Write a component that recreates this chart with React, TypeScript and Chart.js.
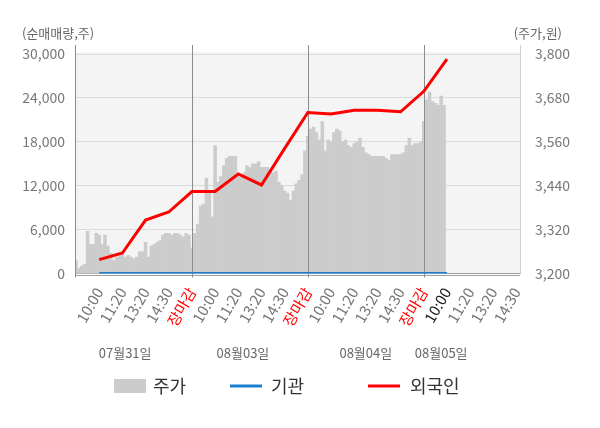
import { useEffect, useRef } from "react";
import Chart from "chart.js/auto";

const FONT = "'Noto Sans CJK KR', 'Noto Sans', sans-serif";

// x axis: one slot per time label (slot 1 = first 10:00)
const timeLabels = [
  "10:00", "11:20", "13:20", "14:30", "장마감",
  "10:00", "11:20", "13:20", "14:30", "장마감",
  "10:00", "11:20", "13:20", "14:30", "장마감",
  "10:00", "11:20", "13:20", "14:30",
];
const dayLabels = ["07월31일", "08월03일", "08월04일", "08월05일"];

// 외국인 / 기관 net volume, one value per slot starting at slot 1
const foreignNet = [
  1900, 2800, 7300, 8400, 11200, 11200, 13600, 12100, 17100, 22000, 21800,
  22300, 22300, 22100, 24900, 29300,
];
const institutionNet = [0, 0, 0, 0, 0, 0, 0, 0, 0, 0, 0, 0, 0, 0, 0, 0];

// 주가, 8 samples per slot starting at slot 0
const price = [
  3235, 3215, 3220, 3225, 3315, 3280, 3280, 3310,
  3305, 3280, 3305, 3275, 3255, 3235, 3245, 3255,
  3255, 3245, 3250, 3245, 3240, 3245, 3260, 3260,
  3285, 3245, 3275, 3280, 3285, 3290, 3305, 3310,
  3310, 3305, 3310, 3310, 3305, 3300, 3310, 3305,
  3270, 3310, 3335, 3385, 3390, 3460, 3425, 3355,
  3550, 3450, 3465, 3495, 3515, 3520, 3520, 3520,
  3465, 3465, 3475, 3495, 3490, 3500, 3500, 3505,
  3490, 3490, 3490, 3485, 3475, 3480, 3450, 3440,
  3425, 3420, 3400, 3425, 3445, 3455, 3470, 3535,
  3575, 3595, 3600, 3585, 3565, 3615, 3535, 3565,
  3560, 3585, 3595, 3590, 3560, 3565, 3550, 3545,
  3555, 3560, 3570, 3545, 3530, 3525, 3520, 3520,
  3520, 3520, 3520, 3515, 3510, 3525, 3525, 3525,
  3525, 3530, 3550, 3570, 3550, 3555, 3555, 3560,
  3615, 3675, 3695, 3670, 3665, 3660, 3685, 3660,
];

const dayStarts = [5, 10, 15];
const dayLabelSlots = [2.12, 7.2, 12.5, 15.75];

export default function App() {
  const canvasRef = useRef<HTMLCanvasElement | null>(null);

  useEffect(() => {
    if (!canvasRef.current) return;
    const ctx = canvasRef.current.getContext("2d");
    if (!ctx) return;

    const decor = {
      id: "decor",
      beforeDraw(chart: any) {
        const { ctx, chartArea: a } = chart;
        ctx.save();
        ctx.fillStyle = "#f4f4f4";
        ctx.fillRect(a.left, a.top - 2, a.right - a.left, a.bottom - a.top + 2);
        ctx.restore();
      },
      afterDatasetDraw(chart: any, args: any) {
        if (args.index !== 2) return;
        const { ctx, chartArea: a } = chart;
        const xs = chart.scales.x;
        ctx.save();
        ctx.strokeStyle = "#8c8c8c";
        ctx.lineWidth = 1;
        dayStarts.forEach((s) => {
          const px = Math.round(xs.getPixelForValue(s)) + 0.5;
          ctx.beginPath();
          ctx.moveTo(px, a.top - 9);
          ctx.lineTo(px, a.bottom + 4);
          ctx.stroke();
        });
        ctx.restore();
      },
      afterDraw(chart: any) {
        const { ctx, chartArea: a } = chart;
        const xs = chart.scales.x;
        ctx.save();
        // axis lines
        ctx.lineWidth = 1;
        ctx.strokeStyle = "#8c8c8c";
        ctx.beginPath();
        ctx.moveTo(Math.round(a.left) - 0.5, a.top - 9);
        ctx.lineTo(Math.round(a.left) - 0.5, a.bottom + 4);
        ctx.stroke();
        ctx.strokeStyle = "#d0d0d0";
        ctx.beginPath();
        ctx.moveTo(Math.round(a.right) + 0.5, a.top - 9);
        ctx.lineTo(Math.round(a.right) + 0.5, a.bottom);
        ctx.stroke();
        ctx.strokeStyle = "#a0a0a0";
        ctx.beginPath();
        ctx.moveTo(a.left, Math.round(a.bottom) + 1.5);
        ctx.lineTo(a.right, Math.round(a.bottom) + 1.5);
        ctx.stroke();

        // axis titles
        ctx.fillStyle = "#666";
        ctx.font = `13px ${FONT}`;
        ctx.textBaseline = "middle";
        ctx.textAlign = "left";
        ctx.fillText("(순매매량,주)", 22, 33);
        ctx.textAlign = "right";
        ctx.fillText("(주가,원)", 562, 33);

        // day labels
        ctx.textAlign = "center";
        dayLabels.forEach((d, i) => {
          ctx.fillText(d, xs.getPixelForValue(dayLabelSlots[i]), 353);
        });

        // legend
        const ly = 386;
        ctx.fillStyle = "#cccccc";
        ctx.fillRect(114, ly - 7, 32, 14);
        ctx.lineWidth = 3;
        ctx.strokeStyle = "#1a7fcf";
        ctx.beginPath();
        ctx.moveTo(230, ly);
        ctx.lineTo(262, ly);
        ctx.stroke();
        ctx.strokeStyle = "#ff0000";
        ctx.beginPath();
        ctx.moveTo(368, ly);
        ctx.lineTo(400, ly);
        ctx.stroke();
        ctx.fillStyle = "#333";
        ctx.font = `18px ${FONT}`;
        ctx.textAlign = "left";
        ctx.fillText("주가", 153, ly);
        ctx.fillText("기관", 271, ly);
        ctx.fillText("외국인", 410, ly);
        ctx.restore();
      },
    };

    const tickColor = (i: number) => {
      if (timeLabels[i] === "장마감") return "#ff0000";
      if (i === 15) return "#222";
      return "#777";
    };

    const chart = new Chart(ctx, {
      type: "bar",
      data: {
        datasets: [
          {
            type: "line",
            label: "외국인",
            data: foreignNet.map((v, i) => ({ x: i + 1, y: v })),
            yAxisID: "y",
            borderColor: "#ff0000",
            borderWidth: 3,
            pointRadius: 0,
            order: 0,
          },
          {
            type: "line",
            label: "기관",
            data: institutionNet.map((v, i) => ({ x: i + 1, y: v })),
            yAxisID: "y",
            borderColor: "#1a7fcf",
            borderWidth: 3,
            pointRadius: 0,
            order: 1,
          },
          {
            type: "bar",
            label: "주가",
            data: price.map((v, i) => ({ x: i / 8, y: v })),
            yAxisID: "y1",
            backgroundColor: "#cccccc",
            borderWidth: 0,
            barPercentage: 1,
            categoryPercentage: 1,
            order: 2,
          },
        ],
      } as any,
      options: {
        animation: false,
        responsive: false,
        layout: { padding: { top: 54, left: 0, right: 0, bottom: 0 } },
        plugins: { legend: { display: false }, tooltip: { enabled: false } },
        scales: {
          x: {
            type: "linear",
            min: 0,
            max: 19.15,
            offset: false,
            grid: { display: false },
            border: { display: true, color: "#999" },
            afterBuildTicks: (scale: any) => {
              scale.ticks = timeLabels.map((_, i) => ({ value: i + 1 }));
            },
            afterFit: (scale: any) => {
              scale.height = 154.5;
            },
            ticks: {
              autoSkip: false,
              minRotation: 60,
              maxRotation: 60,
              padding: 3,
              font: { size: 15, family: FONT },
              color: (c: any) => tickColor(c.index),
              callback: (_v: any, i: number) => timeLabels[i],
            },
          },
          y: {
            position: "left",
            min: 0,
            max: 30000,
            grid: { color: "#dcdcdc", drawTicks: false },
            border: { display: false },
            afterFit: (scale: any) => {
              scale.width = 76;
            },
            ticks: {
              stepSize: 6000,
              padding: 11,
              font: { size: 14, family: FONT },
              color: "#777",
              callback: (v: any) => Number(v).toLocaleString("en-US"),
            },
          },
          y1: {
            position: "right",
            min: 3200,
            max: 3800,
            grid: { display: false },
            border: { display: false },
            afterFit: (scale: any) => {
              scale.width = 80;
            },
            ticks: {
              stepSize: 120,
              padding: 7,
              font: { size: 14, family: FONT },
              color: "#777",
              callback: (v: any) => Number(v).toLocaleString("en-US"),
            },
          },
        },
      } as any,
      plugins: [decor],
    });

    return () => {
      chart.destroy();
    };
  }, []);

  return (
    <div style={{ position: "absolute", left: 0, top: 0, width: 600, height: 428, background: "#fff" }}>
      <canvas ref={canvasRef} width={600} height={428} />
    </div>
  );
}
